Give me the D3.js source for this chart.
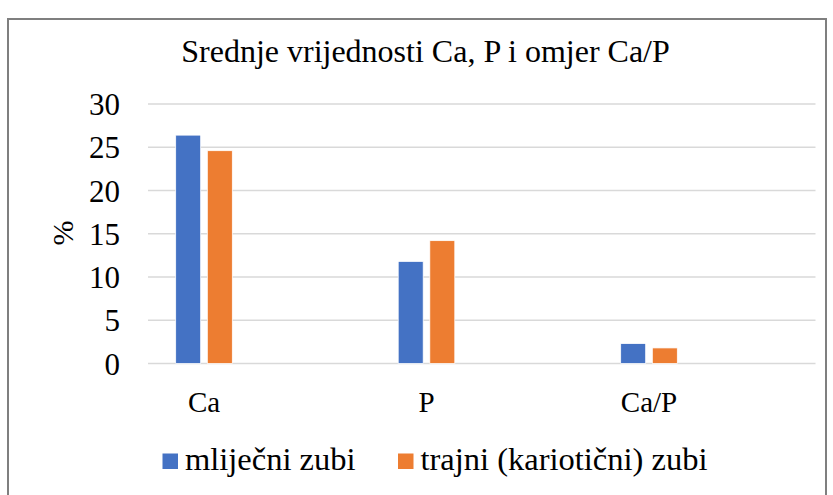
<!DOCTYPE html>
<html>
<head>
<meta charset="utf-8">
<script src="https://cdn.jsdelivr.net/npm/d3@7"></script>
<style>
  body { margin: 0; background: #fff; }
  text { font-family: "Liberation Serif", "Times New Roman", serif; fill: #000; }
</style>
</head>
<body>
<script>
// chart data
var categories = ["Ca", "P", "Ca/P"];
var seriesNames = ["mliječni zubi", "trajni (kariotični) zubi"];
var mlijecni = [26.4, 11.8, 2.3];
var trajni = [24.6, 14.2, 1.8];
var yTicks = [0, 5, 10, 15, 20, 25, 30];
var colors = ["#4472C4", "#ED7D31"];

var w = 833;
var h = 495;

var svg = d3.select("body")
    .append("svg")
    .attr("width", w)
    .attr("height", h);

// outer frame
svg.append("rect")
    .attr("x", 8)
    .attr("y", 19)
    .attr("width", 818)
    .attr("height", 500)
    .attr("fill", "none")
    .attr("stroke", "#7f7f7f")
    .attr("stroke-width", 2);

// title
svg.append("text")
    .attr("x", 425.5)
    .attr("y", 62)
    .attr("text-anchor", "middle")
    .style("font-size", "32px")
    .text("Srednje vrijednosti Ca, P i omjer Ca/P");

var yScale = d3.scaleLinear()
    .domain([0, 30])
    .range([363.5, 104]);

// categories sit a bit left of the gridline span, as in the original
var x0 = d3.scaleBand()
    .domain(categories)
    .range([92.75, 760.25]);

var x1 = d3.scaleBand()
    .domain(seriesNames)
    .range([x0.bandwidth() / 2 - 28.3, x0.bandwidth() / 2 + 28.3])
    .paddingInner(0.21);

// gridlines
svg.append("g")
    .selectAll("line")
    .data(yTicks)
    .enter()
    .append("line")
    .attr("x1", 148)
    .attr("x2", 815.5)
    .attr("y1", d => yScale(d))
    .attr("y2", d => yScale(d))
    .attr("stroke", "#d9d9d9")
    .attr("stroke-width", 1.5);

// y axis labels
var yAxis = d3.axisLeft(yScale).tickValues(yTicks).tickSize(0).tickPadding(0);
var gy = svg.append("g")
    .attr("transform", "translate(120,0)")
    .call(yAxis);
gy.select(".domain").remove();
gy.selectAll("text")
    .attr("dy", "0.34em")
    .style("font-size", "31px")
    .style("font-family", "'Liberation Serif', 'Times New Roman', serif");

// y title
svg.append("text")
    .attr("transform", "translate(73,233) rotate(-90)")
    .attr("text-anchor", "middle")
    .style("font-size", "30px")
    .text("%");

// bars
var rows = categories.map((c, i) => ({ cat: c, vals: [mlijecni[i], trajni[i]] }));

var groups = svg.append("g")
    .selectAll("g")
    .data(rows)
    .enter()
    .append("g")
    .attr("transform", d => "translate(" + x0(d.cat) + ",0)");

groups.selectAll("rect")
    .data(d => d.vals.map((v, j) => ({ name: seriesNames[j], v: v, j: j })))
    .enter()
    .append("rect")
    .attr("x", d => x1(d.name))
    .attr("y", d => yScale(d.v))
    .attr("width", x1.bandwidth())
    .attr("height", d => yScale(0) - yScale(d.v))
    .attr("fill", d => colors[d.j])
    .attr("stroke", "#fff")
    .attr("stroke-width", 0.75);

// x axis labels
var xAxis = d3.axisBottom(x0).tickSize(0).tickPadding(0);
var gx = svg.append("g")
    .attr("transform", "translate(0,412)")
    .call(xAxis);
gx.select(".domain").remove();
gx.selectAll("text")
    .attr("dy", 0)
    .style("font-size", "29px")
    .style("font-family", "'Liberation Serif', 'Times New Roman', serif");

// legend
var legendX = [162.5, 398];
var legend = svg.append("g")
    .selectAll("g")
    .data(seriesNames)
    .enter()
    .append("g")
    .attr("transform", (d, i) => "translate(" + legendX[i] + ",0)");

legend.append("rect")
    .attr("x", 0)
    .attr("y", 453.5)
    .attr("width", 15.5)
    .attr("height", 15.5)
    .attr("fill", (d, i) => colors[i]);

legend.append("text")
    .attr("x", 22.5)
    .attr("y", 469.5)
    .style("font-size", "32.5px")
    .text(d => d);
</script>
</body>
</html>
